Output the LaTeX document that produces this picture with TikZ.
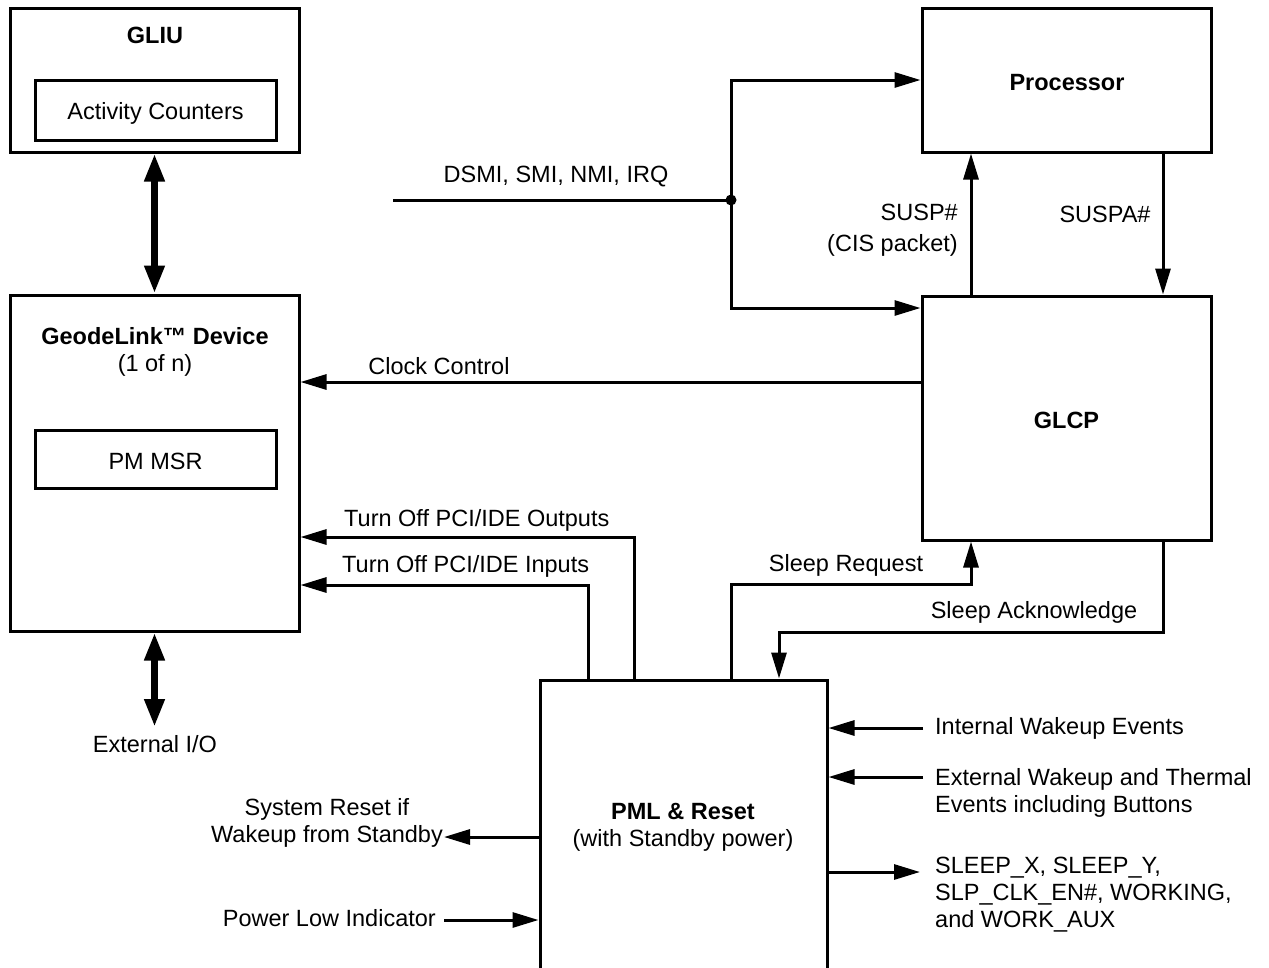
\documentclass[tikz,border=0pt]{standalone}
\usepackage{fontspec}
\setmainfont{Liberation Sans}
\usetikzlibrary{arrows.meta}
\newcommand\dfont{\fontsize{23.5}{27}\selectfont}
\begin{document}
\begin{tikzpicture}[x=1pt,y=-1pt,
  every node/.style={font=\dfont,inner sep=0pt},
  box/.style={draw,line width=3pt},
  ln/.style={line width=3pt},
  arr/.style={line width=3pt,-{Triangle[length=26pt,width=15pt]}},
  dbl/.style={line width=7pt,{Triangle[length=28pt,width=19pt]}-{Triangle[length=28pt,width=19pt]}},
  lbl/.style={align=center}]
\clip (0,0) rectangle (1269,967);
\fill[white] (0,0) rectangle (1269,967);
% boxes
\node[box,minimum width=289pt,minimum height=144pt] (gliu) at (154.5,80) {};
\node[font=\dfont\bfseries] (gliut) at (155,35) {GLIU};
\node[box,minimum width=241pt,minimum height=60pt] (act) at (155.5,110) {};
\node (actt) at (155.5,113) {Activity Counters};
\node[box,minimum width=289pt,minimum height=336pt] (gl) at (154.5,463) {};
\node[lbl] (glt) at (155,352) {\textbf{GeodeLink™ Device}\\(1 of n)};
\node[box,minimum width=241pt,minimum height=58pt] (pm) at (155.5,459) {};
\node (pmt) at (155.5,461) {PM MSR};
\node[box,minimum width=289pt,minimum height=144pt] (proc) at (1066.5,80) {};
\node[font=\dfont\bfseries] (proct) at (1067,83) {Processor};
\node[box,minimum width=289pt,minimum height=244pt] (glcp) at (1066.5,418) {};
\node[font=\dfont\bfseries] (glcpt) at (1066.5,420) {GLCP};
\node[box,minimum width=287pt,minimum height=320pt] (pml) at (683.5,840) {};
\node[lbl] (pmlt) at (683,827) {\textbf{PML \& Reset}\\(with Standby power)};
% GLIU <-> GeodeLink
\draw[dbl] (gliu.south) -- (gl.north);
\coordinate (extio) at (154.5,727);
\draw[dbl] (gl.south) -- (extio);
\node (extiot) at (155,744) {External I/O};
% DSMI
\coordinate (dsmi) at (393,200);
\coordinate (j) at (731,200);
\draw[ln] (dsmi) -- (j);
\fill (j) circle[radius=5.5pt];
\draw[arr] (j) |- (proc.west);
\draw[arr] (j) |- (glcp.west |- 0,308);
\node (dsmit) at (556,177) {DSMI, SMI, NMI, IRQ};
% SUSP
\draw[arr] (glcp.north -| 971,0) -- (proc.south -| 971,0);
\node[align=right,anchor=east] (suspt) at (958,230) {SUSP\#\\[4pt](CIS packet)};
\draw[arr] (proc.south -| 1163,0) -- (glcp.north -| 1163,0);
\node (suspat) at (1105,214) {SUSPA\#};
% Clock control
\draw[arr] (glcp.west |- 0,382) -- (gl.east |- 0,382);
\node (clkt) at (439,366) {Clock Control};
% Turn off
\draw[arr] (pml.north -| 634,0) |- (gl.east |- 0,537);
\node[anchor=west] (outt) at (344,520) {Turn Off PCI/IDE Outputs};
\draw[arr] (pml.north -| 588,0) |- (gl.east |- 0,585);
\node[anchor=west] (int) at (342,566) {Turn Off PCI/IDE Inputs};
% Sleep request / ack
\coordinate (sr) at (971,584);
\draw[arr] (pml.north -| 731,0) |- (sr) -- (glcp.south -| 971,0);
\node (srt) at (846,565) {Sleep Request};
\coordinate (sa) at (779,632);
\draw[arr] (glcp.south -| 1163,0) |- (sa) -- (pml.north -| 779,0);
\node (sat) at (1034,612) {Sleep Acknowledge};
% right side
\coordinate (iw) at (923,728);
\draw[arr] (iw) -- (pml.east |- iw);
\node[anchor=west] (iwt) at (935,728) {Internal Wakeup Events};
\coordinate (ew) at (923,777);
\draw[arr] (ew) -- (pml.east |- ew);
\node[anchor=west,align=left] (ewt) at (935,793) {External Wakeup and Thermal\\Events including Buttons};
\coordinate (so) at (920,872);
\draw[arr] (pml.east |- so) -- (so);
\node[anchor=west,align=left] (sot) at (935,895) {SLEEP\_X, SLEEP\_Y,\\SLP\_CLK\_EN\#, WORKING,\\and WORK\_AUX};
% left side
\coordinate (sys) at (444,837);
\draw[arr] (pml.west |- sys) -- (sys);
\node[anchor=east,align=center] (syst) at (443,823) {System Reset if\\Wakeup from Standby};
\coordinate (pl) at (444,920);
\draw[arr] (pl) -- (pml.west |- pl);
\node[anchor=east] (plt) at (436,918) {Power Low Indicator};
\end{tikzpicture}
\end{document}
